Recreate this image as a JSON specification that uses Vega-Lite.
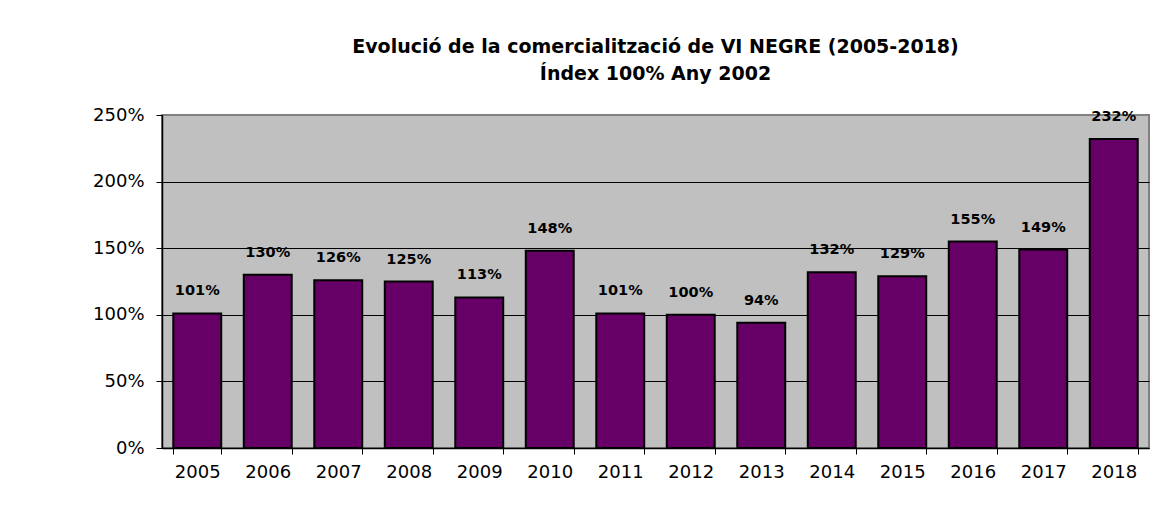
{
  "$schema": "https://vega.github.io/schema/vega-lite/v6.json",
  "autosize": "none",
  "width": 987,
  "height": 333,
  "padding": {"left": 162, "top": 115, "right": 22, "bottom": 74},
  "background": "white",
  "title": {
    "text": ["Evolució de la comercialització de VI NEGRE (2005-2018)", "Índex 100% Any 2002"],
    "font": "DejaVu Sans",
    "fontSize": 19,
    "fontWeight": "bold",
    "color": "black",
    "lineHeight": 27,
    "anchor": "middle",
    "offset": 22
  },
  "config": {
    "view": {"fill": "#C0C0C0", "stroke": "#808080", "strokeWidth": 2},
    "axis": {
      "labelFont": "DejaVu Sans",
      "labelColor": "black",
      "domainColor": "black",
      "tickColor": "black",
      "labelFontSize": 18
    }
  },
  "data": {
    "values": [
      {"year": "2005", "value": 1.01},
      {"year": "2006", "value": 1.30},
      {"year": "2007", "value": 1.26},
      {"year": "2008", "value": 1.25},
      {"year": "2009", "value": 1.13},
      {"year": "2010", "value": 1.48},
      {"year": "2011", "value": 1.01},
      {"year": "2012", "value": 1.00},
      {"year": "2013", "value": 0.94},
      {"year": "2014", "value": 1.32},
      {"year": "2015", "value": 1.29},
      {"year": "2016", "value": 1.55},
      {"year": "2017", "value": 1.49},
      {"year": "2018", "value": 2.32}
    ]
  },
  "encoding": {
    "x": {
      "field": "year",
      "type": "ordinal",
      "scale": {"paddingInner": 0.32, "paddingOuter": 0.16},
      "axis": {
        "title": null,
        "labelAngle": 0,
        "tickBand": "extent",
        "tickSize": 6,
        "labelPadding": 9,
        "grid": false,
        "domainWidth": 1.5
      }
    },
    "y": {
      "field": "value",
      "type": "quantitative",
      "scale": {"domain": [0, 2.5], "nice": false},
      "axis": {
        "title": null,
        "values": [0, 0.5, 1, 1.5, 2, 2.5],
        "format": ".0%",
        "grid": true,
        "gridColor": {"condition": {"test": "datum.value >= 2.5", "value": "#808080"}, "value": "black"},
        "gridWidth": 1,
        "tickSize": 6,
        "labelPadding": 12,
        "domainWidth": 1.5
      }
    }
  },
  "layer": [
    {
      "mark": {"type": "bar", "fill": "#660066", "stroke": "black", "strokeWidth": 2}
    },
    {
      "mark": {
        "type": "text",
        "baseline": "bottom",
        "dy": -15,
        "font": "DejaVu Sans",
        "fontSize": 14.5,
        "fontWeight": "bold",
        "color": "black"
      },
      "encoding": {
        "text": {"field": "value", "type": "quantitative", "format": ".0%"}
      }
    }
  ]
}
